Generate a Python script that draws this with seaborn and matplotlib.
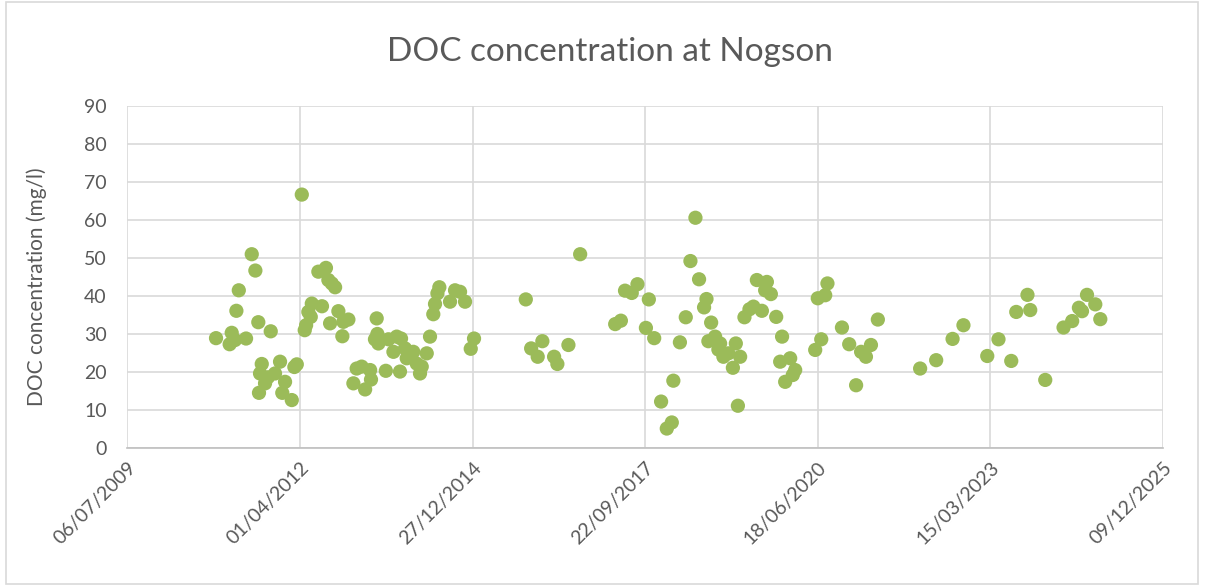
import pandas as pd
import matplotlib
matplotlib.use('Agg')
import matplotlib.pyplot as plt
import matplotlib.dates as mdates
import seaborn as sb

# sample dates as Excel serial numbers, DOC in mg/l
sample_serial = [40513, 40592, 40604, 40623, 40631, 40645, 40687, 40720, 40741, 40758,
                 40762, 40768, 40778, 40797, 40814, 40830, 40855, 40884, 40897, 40913,
                 40952, 40967, 40981, 41010, 41027, 41035, 41048, 41062, 41068, 41106,
                 41127, 41150, 41164, 41174, 41184, 41203, 41222, 41245, 41251, 41280,
                 41309, 41328, 41357, 41377, 41406, 41411, 41434, 41444, 41448, 41454,
                 41497, 41512, 41541, 41560, 41579, 41585, 41608, 41618, 41628, 41656,
                 41676, 41695, 41705, 41734, 41753, 41772, 41782, 41796, 41807, 41869,
                 41898, 41927, 41956, 41989, 42008, 42308, 42339, 42377, 42404, 42472,
                 42491, 42555, 42623, 42826, 42859, 42883, 42922, 42955, 43004, 43021,
                 43052, 43092, 43125, 43154, 43163, 43201, 43235, 43262, 43291, 43312,
                 43341, 43355, 43366, 43382, 43405, 43424, 43434, 43453, 43482, 43508,
                 43525, 43537, 43550, 43575, 43604, 43627, 43647, 43676, 43695, 43705,
                 43728, 43759, 43782, 43793, 43811, 43840, 43855, 43869, 43985, 44000,
                 44020, 44043, 44056, 44140, 44182, 44222, 44251, 44279, 44308, 44348,
                 44593, 44686, 44781, 44844, 44982, 45047, 45121, 45150, 45215, 45231,
                 45318, 45424, 45474, 45513, 45531, 45560, 45608, 45637]
doc_mgl = [28.8, 27.2, 30.2, 28.3, 36.0, 41.4, 28.7, 50.9, 46.6, 33.0,
           14.4, 19.5, 22.0, 16.9, 18.5, 30.6, 19.5, 22.6, 14.4, 17.3,
           12.5, 21.2, 21.9, 66.6, 30.9, 32.2, 35.7, 34.4, 37.9, 46.3,
           37.2, 47.3, 44.1, 32.7, 43.2, 42.2, 35.9, 29.3, 33.1, 33.7,
           16.9, 20.8, 21.3, 15.3, 20.4, 17.9, 28.5, 34.0, 29.9, 27.4,
           20.2, 28.5, 25.2, 29.2, 20.0, 28.7, 26.1, 23.5, 23.9, 25.2,
           22.1, 19.5, 21.3, 24.8, 29.2, 35.1, 37.8, 40.6, 42.2, 38.4,
           41.4, 41.0, 38.4, 26.0, 28.7, 39.0, 26.1, 23.9, 28.0, 23.9,
           22.0, 27.0, 50.9, 32.5, 33.4, 41.3, 40.7, 43.0, 31.5, 39.0,
           28.8, 12.1, 5.0, 6.6, 17.6, 27.7, 34.3, 49.1, 60.5, 44.3,
           36.9, 39.1, 28.0, 32.9, 29.2, 25.8, 27.4, 23.9, 24.8, 21.0,
           27.4, 11.0, 23.9, 34.3, 36.4, 37.1, 44.1, 36.0, 41.4, 43.6,
           40.4, 34.4, 22.6, 29.2, 17.3, 23.5, 19.1, 20.4, 25.7, 39.3,
           28.5, 40.1, 43.2, 31.6, 27.2, 16.4, 25.2, 23.9, 27.0, 33.7,
           20.8, 23.0, 28.6, 32.2, 24.1, 28.5, 22.8, 35.7, 40.2, 36.2,
           17.8, 31.6, 33.3, 36.8, 35.9, 40.2, 37.7, 33.8]

df = pd.DataFrame({'date': pd.to_datetime(sample_serial, unit='D', origin='1899-12-30'),
                   'doc': doc_mgl})

sb.set_style('white')
plt.rcParams['font.family'] = ['Lato', 'DejaVu Sans']
txt = '#595959'

fig = plt.figure(figsize=(12.05, 5.86), dpi=100)
ax = fig.add_axes([0.1058, 0.2363, 0.8593, 0.5833])

sb.scatterplot(x='date', y='doc', data=df, ax=ax, color='#9BBB59',
               s=105, edgecolor='none', linewidth=0, zorder=3)

xticks = pd.date_range('2009-07-06', periods=7, freq='1000D')
ax.set_xlim(xticks[0], xticks[-1])
ax.set_xticks(xticks)
ax.xaxis.set_major_formatter(mdates.DateFormatter('%d/%m/%Y'))
ax.set_ylim(0, 90)
ax.set_yticks(range(0, 91, 10))

ax.grid(True, color='#D9D9D9', linewidth=1.2)
ax.set_axisbelow(True)
for sp in ['top', 'right', 'left']:
    ax.spines[sp].set_visible(False)
ax.spines['bottom'].set_color('#BFBFBF')
ax.spines['bottom'].set_linewidth(1.2)
ax.tick_params(length=0, labelsize=14, labelcolor=txt)
ax.tick_params(axis='y', pad=15)
ax.tick_params(axis='x', pad=8)
plt.setp(ax.get_xticklabels(), rotation=45, ha='right', rotation_mode='anchor')

ax.set_xlabel('')
ax.set_ylabel('DOC concentration (mg/l)', fontsize=15, color=txt)
ax.yaxis.set_label_coords(-0.078, 0.47)
fig.text(0.506, 0.912, 'DOC concentration at Nogson', ha='center', va='center',
         fontsize=24, color=txt)

# chart area border
fig.patches.append(plt.Rectangle((0.005, 0.003), 0.989, 0.994, transform=fig.transFigure,
                                 fill=False, edgecolor='#D9D9D9', linewidth=1.2))

plt.savefig('out.png', dpi=100)
